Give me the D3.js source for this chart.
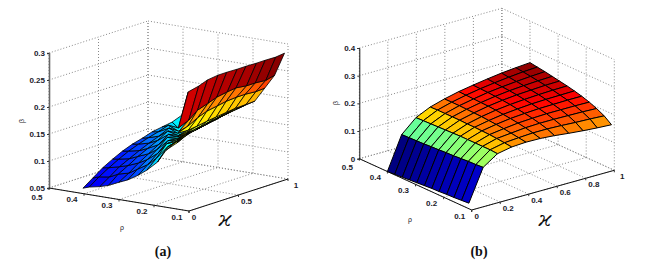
<!DOCTYPE html>
<html>
<head>
<meta charset="utf-8">
<title>beta surfaces</title>
<script src="https://d3js.org/d3.v7.min.js"></script>
<style>
	body{ margin: 0; background-color: #fff; }
	svg{ display: block; }
	.tick-label{ font-family: "Liberation Sans", sans-serif; font-size: 8px; font-weight: bold; fill: #1a1a2a; }
	.axis-label{ font-family: "Liberation Sans", sans-serif; font-size: 7px; fill: #1a1a2a; }
	.kappa{ font-family: "DejaVu Serif", serif; font-style: italic; font-size: 21px; fill: #111; }
	.panel-title{ font-family: "Liberation Serif", serif; font-size: 14px; font-weight: bold; fill: #111; }
	.grid{ stroke: #888; stroke-width: 1; stroke-dasharray: 1 2; fill: none; }
</style>
</head>
<body>
<div id="chart"></div>
<script>
// panel (a)
var rhoA = [0.403, 0.385, 0.355, 0.33, 0.30, 0.275, 0.245, 0.22, 0.19, 0.165, 0.135, 0.11];
var kappaA = [0, 0.1, 0.2, 0.3, 0.4, 0.5, 0.6, 0.7, 0.8, 0.9, 1];
var betaA = [
	[.060,.064,.068,.073,.082,.089,.101,.113,.131,.156,.172,.189],
	[.073,.077,.080,.088,.093,.103,.115,.130,.153,.165,.181,.195],
	[.086,.088,.093,.098,.106,.115,.130,.150,.158,.173,.186,.198],
	[.096,.098,.102,.109,.117,.128,.147,.151,.165,.177,.189,.201],
	[.105,.107,.111,.118,.128,.144,.145,.157,.168,.180,.193,.205],
	[.112,.114,.119,.127,.141,.139,.149,.159,.172,.184,.196,.208],
	[.117,.120,.126,.138,.133,.142,.151,.163,.175,.187,.199,.209],
	[.123,.125,.135,.128,.137,.147,.160,.170,.182,.192,.202,.211],
	[.126,.131,.123,.135,.155,.169,.182,.193,.204,.212,.220,.229],
	[.129,.120,.138,.159,.175,.189,.202,.212,.219,.227,.235,.247],
	[.136,.181,.195,.209,.221,.229,.238,.246,.255,.263,.272,.282]
];
// face colour level of (a), 0-1 along the colormap, one per cell
var colorA = [
	[.10,.12,.14,.15,.17,.20,.26,.33,.45,.60,.60],
	[.12,.14,.15,.17,.19,.24,.29,.38,.58,.60,.56],
	[.14,.15,.17,.19,.23,.28,.33,.50,.60,.56,.57],
	[.15,.17,.19,.23,.27,.32,.42,.60,.57,.57,.58],
	[.17,.19,.23,.27,.31,.37,.60,.57,.58,.58,.59],
	[.19,.23,.27,.31,.35,.60,.58,.59,.60,.61,.62],
	[.23,.27,.31,.35,.60,.58,.58,.58,.60,.62,.64],
	[.27,.31,.35,.62,.64,.65,.66,.67,.68,.69,.70],
	[.34,.36,.70,.72,.73,.74,.75,.76,.77,.79,.81],
	[.36,.92,.93,.94,.95,.95,.96,.96,.97,.98,.99]
];
var rhoTicksA = [0.1, 0.2, 0.3, 0.4, 0.5];
var kappaTicksA = [0, 0.5, 1];
var betaTicksA = [0.05, 0.1, 0.15, 0.2, 0.25, 0.3];

// panel (b)
var rhoB = [0.40, 0.374, 0.347, 0.321, 0.295, 0.268, 0.242, 0.216, 0.189, 0.163, 0.136, 0.11];
var kappaB = [0, 0.1, 0.2, 0.3, 0.4, 0.5, 0.6, 0.7, 0.8, 0.9, 1];
var betaB = [
	[0,.002,.004,.006,.008,.010,.012,.013,.015,.016,.018,.020],
	[.119,.120,.121,.122,.124,.125,.127,.128,.130,.132,.133,.135],
	[.166,.167,.168,.169,.170,.171,.172,.172,.172,.172,.172,.170],
	[.190,.191,.191,.191,.191,.190,.190,.189,.188,.186,.183,.180],
	[.205,.205,.205,.204,.203,.202,.200,.198,.195,.191,.187,.183],
	[.217,.216,.215,.214,.213,.211,.208,.205,.201,.196,.190,.182],
	[.226,.225,.224,.222,.220,.217,.213,.209,.204,.198,.190,.178],
	[.234,.232,.230,.228,.225,.221,.217,.212,.206,.198,.188,.172],
	[.241,.238,.235,.232,.228,.224,.219,.213,.206,.197,.185,.167],
	[.246,.243,.239,.235,.231,.226,.220,.214,.206,.196,.183,.163],
	[.250,.246,.242,.237,.232,.227,.221,.214,.205,.194,.180,.160]
];
var rhoTicksB = [0.1, 0.2, 0.3, 0.4, 0.5];
var kappaTicksB = [0, 0.2, 0.4, 0.6, 0.8, 1];
var betaTicksB = [0, 0.1, 0.2, 0.3, 0.4];

var width = 652, height = 262;

var svg = d3.select('#chart')
	.append('svg')
	.attr('width', width)
	.attr('height', height);

var jet = d3.scaleLinear()
	.domain([0, 0.125, 0.375, 0.625, 0.875, 1])
	.range(['#000080', '#0000ff', '#00ffff', '#ffff00', '#ff0000', '#800000']);

function drawPanel(p){
	var g = svg.append('g');

	// oblique box: front corner + offsets along each data direction
	var rhoX = d3.scaleLinear().domain([0.1, 0.5]).range([0, p.rhoDx]);
	var rhoY = d3.scaleLinear().domain([0.1, 0.5]).range([0, p.rhoDy]);
	var kapX = d3.scaleLinear().domain([0, 1]).range([0, p.kapDx]);
	var kapY = d3.scaleLinear().domain([0, 1]).range([0, p.kapDy]);
	var zY = d3.scaleLinear().domain(p.zDomain).range([0, -p.zHeight]);

	function project(r, k, b){
		return [p.front[0] + rhoX(r) + kapX(k), p.front[1] + rhoY(r) + kapY(k) + zY(b)];
	}
	var line = d3.line();
	var zMin = p.zDomain[0], zMax = p.zDomain[1];

	// dotted grid on the floor and the two back walls
	var grid = g.append('g').attr('class', 'grid');
	function gridLine(a, b){
		grid.append('path').attr('d', line([project.apply(null, a), project.apply(null, b)]));
	}
	p.rhoTicks.forEach(function(r){
		gridLine([r, 0, zMin], [r, 1, zMin]);
		gridLine([r, 1, zMin], [r, 1, zMax]);
	});
	p.kappaTicks.forEach(function(k){
		gridLine([0.1, k, zMin], [0.5, k, zMin]);
		gridLine([0.5, k, zMin], [0.5, k, zMax]);
	});
	p.betaTicks.forEach(function(b){
		gridLine([0.5, 0, b], [0.5, 1, b]);
		gridLine([0.5, 1, b], [0.1, 1, b]);
	});

	// vertical axis
	var left = project(0.5, 0, zMin);
	var yAxisScale = d3.scaleLinear().domain(p.zDomain).range([left[1], left[1] - p.zHeight]);
	var yAxis = d3.axisLeft(yAxisScale).tickValues(p.betaTicks).tickSize(2).tickFormat(d3.format('~g'));
	var yG = g.append('g').attr('transform', 'translate(' + left[0] + ',0)').call(yAxis);
	yG.select('.domain').attr('stroke', p.zAxisColor).attr('stroke-width', p.zAxisWidth);
	yG.selectAll('.tick line').attr('stroke', '#333');
	yG.selectAll('text').attr('class', 'tick-label').attr('x', -4).attr('fill', null);

	// floor axes
	g.append('path').attr('d', line([project(0.5, 0, zMin), project(0.1, 0, zMin), project(0.1, 1, zMin)]))
		.attr('fill', 'none').attr('stroke', '#111').attr('stroke-width', 1);
	p.rhoTicks.forEach(function(r){
		var q = project(r, 0, zMin);
		g.append('path').attr('d', line([q, [q[0], q[1] + 2]])).attr('stroke', '#333');
		g.append('text').attr('class', 'tick-label').attr('text-anchor', 'middle')
			.attr('x', q[0] - 12).attr('y', q[1] + (r == 0.5 ? 11.5 : 8.5)).text(d3.format('~g')(r));
	});
	p.kappaTicks.forEach(function(k){
		var q = project(0.1, k, zMin);
		g.append('path').attr('d', line([q, [q[0], q[1] + 2]])).attr('stroke', '#333');
		g.append('text').attr('class', 'tick-label').attr('text-anchor', 'middle')
			.attr('x', q[0] + (k == 0 ? 5 : 8)).attr('y', q[1] + 9).text(d3.format('~g')(k));
	});

	// surface, back cells first
	var cells = [];
	for(var j = p.kappa.length - 2; j >= 0; j--){
		for(var i = 0; i < p.rho.length - 1; i++){
			cells.push({i: i, j: j});
		}
	}
	if(p.sortCells) cells.sort(p.sortCells);
	g.append('g').selectAll('path')
		.data(cells)
		.enter()
		.append('path')
		.attr('d', function(d){
			var c = [[d.i, d.j], [d.i + 1, d.j], [d.i + 1, d.j + 1], [d.i, d.j + 1]].map(function(n){
				return project(p.rho[n[0]], p.kappa[n[1]], p.beta[n[1]][n[0]]);
			});
			return line(c) + 'Z';
		})
		.attr('fill', function(d){ return jet(p.level(d.i, d.j)); })
		.attr('stroke', '#000')
		.attr('stroke-width', p.mesh)
		.attr('stroke-linejoin', 'round');

	// labels
	g.append('text').attr('class', 'axis-label').attr('text-anchor', 'middle')
		.attr('transform', 'translate(' + p.betaLabel + ') rotate(-90)').text('β');
	g.append('text').attr('class', 'axis-label').attr('text-anchor', 'middle')
		.attr('x', p.rhoLabel[0]).attr('y', p.rhoLabel[1]).text('ρ');
	g.append('text').attr('class', 'kappa').attr('text-anchor', 'middle')
		.attr('x', p.kappaLabel[0]).attr('y', p.kappaLabel[1]).text('ϰ');
	g.append('text').attr('class', 'panel-title').attr('text-anchor', 'middle')
		.attr('x', p.title[0]).attr('y', p.title[1]).text(p.name);
}

drawPanel({
	name: '(a)', rho: rhoA, kappa: kappaA, beta: betaA,
	rhoTicks: rhoTicksA, kappaTicks: kappaTicksA, betaTicks: betaTicksA,
	level: function(i, j){ return colorA[j][i]; },
	// this surface folds over itself, so paint it left to right
	sortCells: function(a, b){ return (a.i + a.j) - (b.i + b.j); },
	front: [189, 211], rhoDx: -140, rhoDy: -23, kapDx: 99, kapDy: -32,
	zDomain: [0.05, 0.3], zHeight: 135,
	zAxisColor: '#666', zAxisWidth: 1.6, mesh: 0.8,
	betaLabel: [24, 121], rhoLabel: [122, 230], kappaLabel: [225, 226], title: [163, 256]
});

drawPanel({
	name: '(b)', rho: rhoB, kappa: kappaB, beta: betaB,
	rhoTicks: rhoTicksB, kappaTicks: kappaTicksB, betaTicks: betaTicksB,
	level: function(i, j){ return betaB[j][i] / 0.25; },
	front: [471.7, 210], rhoDx: -112.4, rhoDy: -51.3, kapDx: 142.6, kapDy: -39.7,
	zDomain: [0, 0.4], zHeight: 110.7,
	zAxisColor: '#111', zAxisWidth: 1, mesh: 1,
	betaLabel: [338, 103], rhoLabel: [410, 222], kappaLabel: [545, 226], title: [479, 256]
});
</script>
</body>
</html>
